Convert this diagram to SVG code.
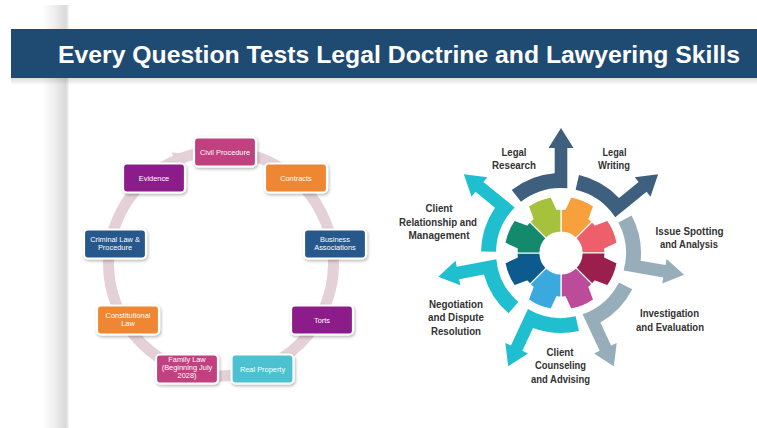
<svg xmlns="http://www.w3.org/2000/svg" xmlns:xlink="http://www.w3.org/1999/xlink" width="757" height="428" viewBox="0 0 757 428">
<style>
.box{stroke:#fff;stroke-width:2.2;filter:url(#sh)}
.bt{font-family:"Liberation Sans",Arial,sans-serif;font-size:7.4px;fill:#fff;text-anchor:middle}
.lb{font-family:"Liberation Sans",Arial,sans-serif;font-size:11.5px;font-weight:bold;fill:#333;text-anchor:middle}
.seg{stroke:#fff;stroke-width:1.2;stroke-linejoin:round}
</style>
<defs>
<filter id="sh" x="-20%" y="-20%" width="150%" height="160%">
<feDropShadow dx="1" dy="1.5" stdDeviation="1.5" flood-color="#000" flood-opacity="0.3"/>
</filter>
<linearGradient id="strip" x1="0" y1="0" x2="1" y2="0">
<stop offset="0" stop-color="#ffffff"/>
<stop offset="0.45" stop-color="#efefef"/>
<stop offset="0.88" stop-color="#d9d9d9"/>
<stop offset="1" stop-color="#f6f6f6"/>
</linearGradient>
<linearGradient id="bsh" x1="0" y1="0" x2="0" y2="1">
<stop offset="0" stop-color="#000" stop-opacity="0.14"/>
<stop offset="1" stop-color="#000" stop-opacity="0"/>
</linearGradient>
<path id="arr" d="M-49.25,-63.04 A80,80 0 0 1 -6.3,-79.75 L-6.3,-105 L-12.5,-105 L0,-125 L12.5,-105 L6.3,-105 L6.3,-64.69 A65,65 0 0 0 -40.02,-51.22 Z"/>
<path id="seg" d="M0,-21 A21,21 0 0 1 14.85,-14.85 L31.11,-31.11 A44,44 0 0 0 27.99,-33.95 L32.69,-46.69 A57,57 0 0 0 9.9,-56.13 L4.22,-43.8 A44,44 0 0 0 0,-44 Z"/>
</defs>
<rect width="757" height="428" fill="#fff"/>
<rect x="42" y="5" width="27" height="423" fill="url(#strip)"/>
<rect x="11" y="78" width="746" height="7" fill="url(#bsh)"/>
<rect x="11" y="29" width="746" height="49" fill="#1f4a72"/>
<text x="58" y="63" font-family="'Liberation Sans',Arial,sans-serif" font-size="24" font-weight="bold" fill="#fff" textLength="682" lengthAdjust="spacingAndGlyphs">Every Question Tests Legal Doctrine and Lawyering Skills</text>

<g id="connectors">
<circle cx="221" cy="263.5" r="112.5" fill="none" stroke="#e4d0d7" stroke-width="11"/>
<polygon points="171.6,152.5 178.9,168.9 193.8,154.3" fill="#e4d0d7"/>
</g>

<g id="civil-procedure"><rect class="box" x="194" y="137.5" width="62" height="29" rx="4" fill="#c1407f"/><text class="bt" x="225" y="154.5">Civil Procedure</text></g>
<g id="contracts"><rect class="box" x="265" y="163.5" width="62" height="29" rx="4" fill="#ef8631"/><text class="bt" x="296" y="180.5">Contracts</text></g>
<g id="business-associations"><rect class="box" x="304" y="229.5" width="62" height="29" rx="4" fill="#27588b"/><text class="bt" x="335" y="242">Business</text><text class="bt" x="335" y="250">Associations</text></g>
<g id="torts"><rect class="box" x="291" y="305.5" width="62" height="29" rx="4" fill="#8c1f8a"/><text class="bt" x="322" y="322.5">Torts</text></g>
<g id="real-property"><rect class="box" x="231.5" y="354.5" width="62" height="29" rx="4" fill="#4dc1cf"/><text class="bt" x="262.5" y="371.5">Real Property</text></g>
<g id="family-law"><rect class="box" x="156" y="354.5" width="62" height="29" rx="4" fill="#c1407f"/><text class="bt" x="187" y="361.5">Family Law</text><text class="bt" x="187" y="369.8">(Beginning July</text><text class="bt" x="187" y="378">2028)</text></g>
<g id="constitutional-law"><rect class="box" x="97" y="305.5" width="62" height="29" rx="4" fill="#ef8631"/><text class="bt" x="128" y="318">Constitutional</text><text class="bt" x="128" y="326">Law</text></g>
<g id="criminal-law"><rect class="box" x="84" y="229.5" width="62" height="29" rx="4" fill="#27588b"/><text class="bt" x="115" y="242">Criminal Law &amp;</text><text class="bt" x="115" y="250">Procedure</text></g>
<g id="evidence"><rect class="box" x="123" y="163.5" width="62" height="29" rx="4" fill="#8c1f8a"/><text class="bt" x="154" y="180.5">Evidence</text></g>

<g id="gear" transform="translate(561,253)">
<use href="#seg" class="seg" fill="#f7a03c"/>
<use href="#seg" class="seg" fill="#ec5f6b" transform="rotate(45)"/>
<use href="#seg" class="seg" fill="#9a1f4c" transform="rotate(90)"/>
<use href="#seg" class="seg" fill="#bc4b9a" transform="rotate(135)"/>
<use href="#seg" class="seg" fill="#3ba8de" transform="rotate(180)"/>
<use href="#seg" class="seg" fill="#0d5a8e" transform="rotate(225)"/>
<use href="#seg" class="seg" fill="#138a6b" transform="rotate(270)"/>
<use href="#seg" class="seg" fill="#a6c23c" transform="rotate(315)"/>
</g>

<g id="arrows" transform="translate(561,253)">
<use href="#arr" fill="#3f5f7f"/>
<use href="#arr" fill="#3f5f7f" transform="rotate(51)"/>
<use href="#arr" fill="#97aeba" transform="rotate(100)"/>
<use href="#arr" fill="#97aeba" transform="rotate(155)"/>
<use href="#arr" fill="#1fbfd0" transform="rotate(205)"/>
<use href="#arr" fill="#1fbfd0" transform="rotate(259)"/>
<use href="#arr" fill="#1fbfd0" transform="rotate(309)"/>
</g>

<g id="legal-research"><text class="lb" x="514" y="156" textLength="25" lengthAdjust="spacingAndGlyphs">Legal</text><text class="lb" x="514" y="169" textLength="44" lengthAdjust="spacingAndGlyphs">Research</text></g>
<g id="legal-writing"><text class="lb" x="614.5" y="156" textLength="24" lengthAdjust="spacingAndGlyphs">Legal</text><text class="lb" x="614" y="169" textLength="32" lengthAdjust="spacingAndGlyphs">Writing</text></g>
<g id="issue-spotting"><text class="lb" x="689.5" y="234.5" textLength="68" lengthAdjust="spacingAndGlyphs">Issue Spotting</text><text class="lb" x="689" y="248" textLength="58" lengthAdjust="spacingAndGlyphs">and Analysis</text></g>
<g id="investigation"><text class="lb" x="669.5" y="317" textLength="59" lengthAdjust="spacingAndGlyphs">Investigation</text><text class="lb" x="670" y="330.5" textLength="68" lengthAdjust="spacingAndGlyphs">and Evaluation</text></g>
<g id="client-counseling"><text class="lb" x="560" y="355.5" textLength="27" lengthAdjust="spacingAndGlyphs">Client</text><text class="lb" x="560.5" y="369" textLength="51" lengthAdjust="spacingAndGlyphs">Counseling</text><text class="lb" x="560.5" y="382.5" textLength="59" lengthAdjust="spacingAndGlyphs">and Advising</text></g>
<g id="negotiation"><text class="lb" x="456" y="307.5" textLength="54" lengthAdjust="spacingAndGlyphs">Negotiation</text><text class="lb" x="456" y="321" textLength="56" lengthAdjust="spacingAndGlyphs">and Dispute</text><text class="lb" x="456" y="334.5" textLength="50" lengthAdjust="spacingAndGlyphs">Resolution</text></g>
<g id="client-relationship"><text class="lb" x="439" y="212" textLength="27" lengthAdjust="spacingAndGlyphs">Client</text><text class="lb" x="438" y="225.5" textLength="78" lengthAdjust="spacingAndGlyphs">Relationship and</text><text class="lb" x="439" y="239" textLength="61" lengthAdjust="spacingAndGlyphs">Management</text></g>
</svg>
